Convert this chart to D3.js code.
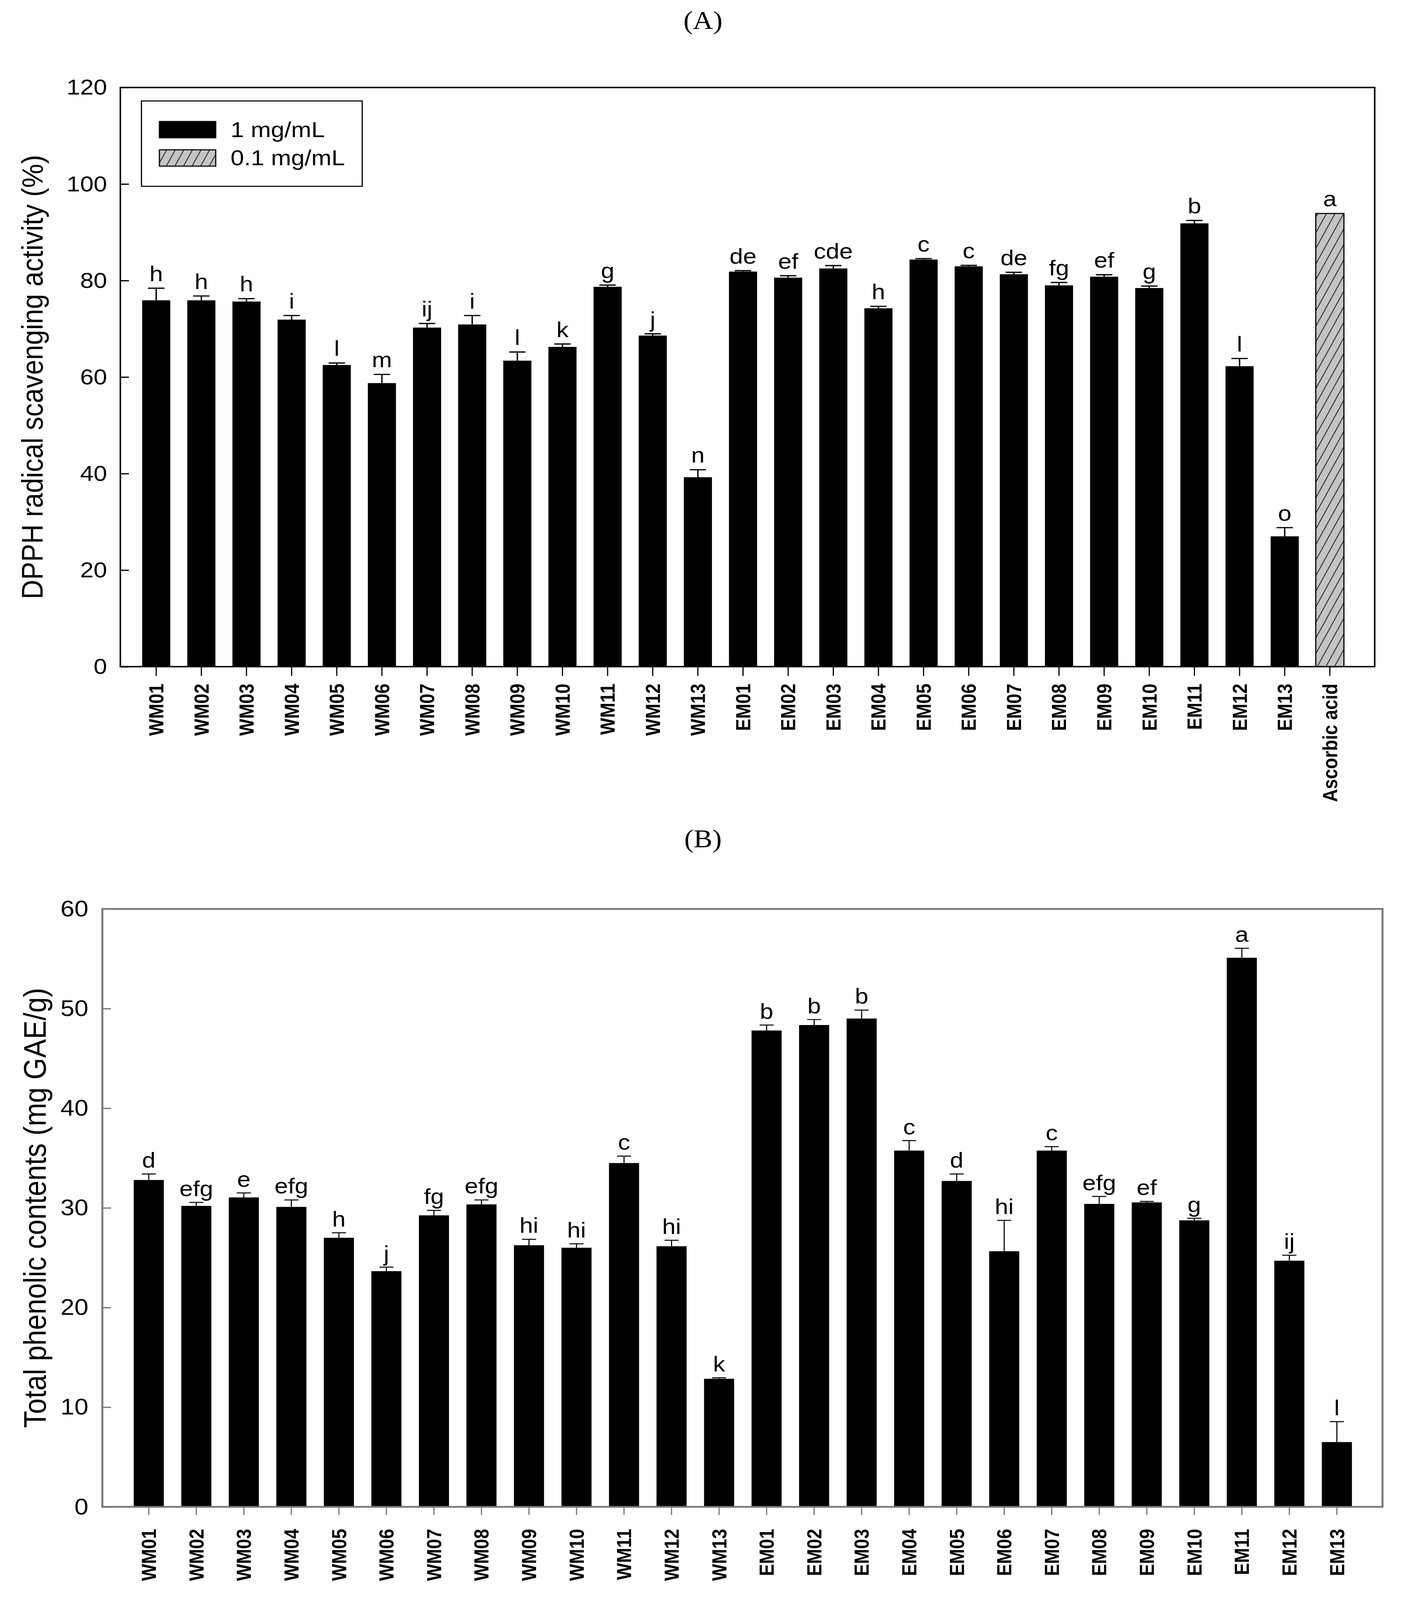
<!DOCTYPE html>
<html>
<head>
<meta charset="utf-8">
<script src="https://cdn.jsdelivr.net/npm/d3@7"></script>
<style>
  html, body { margin: 0; padding: 0; background: #fff; overflow: hidden; }
  svg { display: block; }
</style>
</head>
<body>
<svg id="chart" viewBox="0 0 3593 4517" preserveAspectRatio="none"></svg>
<script>
// ---------------- DATA ----------------
const categoriesA = ["WM01","WM02","WM03","WM04","WM05","WM06","WM07","WM08","WM09","WM10","WM11","WM12","WM13",
                     "EM01","EM02","EM03","EM04","EM05","EM06","EM07","EM08","EM09","EM10","EM11","EM12","EM13","Ascorbic acid"];
const valuesA = [75.9,75.9,75.65,71.9,62.5,58.75,70.25,70.9,63.4,66.25,78.7,68.6,39.25,
                 81.85,80.6,82.5,74.25,84.35,82.95,81.3,79.0,80.8,78.45,91.85,62.25,27.0,93.9];
const errorsA = [2.5,0.9,0.6,0.85,0.4,1.8,0.85,1.85,1.8,0.6,0.35,0.35,1.55,
                 0.2,0.4,0.6,0.4,0.2,0.2,0.4,0.6,0.4,0.4,0.6,1.6,1.8,0];
const lettersA = ["h","h","h","i","l","m","ij","i","l","k","g","j","n",
                  "de","ef","cde","h","c","c","de","fg","ef","g","b","l","o","a"];
const seriesA = ["1 mg/mL","1 mg/mL","1 mg/mL","1 mg/mL","1 mg/mL","1 mg/mL","1 mg/mL","1 mg/mL","1 mg/mL","1 mg/mL","1 mg/mL","1 mg/mL","1 mg/mL",
                 "1 mg/mL","1 mg/mL","1 mg/mL","1 mg/mL","1 mg/mL","1 mg/mL","1 mg/mL","1 mg/mL","1 mg/mL","1 mg/mL","1 mg/mL","1 mg/mL","1 mg/mL","0.1 mg/mL"];
const legendLabels = ["1 mg/mL","0.1 mg/mL"];
const ticksA = [0,20,40,60,80,100,120];

const categoriesB = ["WM01","WM02","WM03","WM04","WM05","WM06","WM07","WM08","WM09","WM10","WM11","WM12","WM13",
                     "EM01","EM02","EM03","EM04","EM05","EM06","EM07","EM08","EM09","EM10","EM11","EM12","EM13"];
const valuesB = [32.8,30.2,31.05,30.1,27.0,23.65,29.25,30.35,26.25,26.0,34.5,26.15,12.85,
                 47.8,48.35,49.0,35.75,32.7,25.65,35.75,30.4,30.55,28.75,55.1,24.7,6.5];
const errorsB = [0.6,0.35,0.45,0.7,0.5,0.4,0.5,0.45,0.6,0.4,0.7,0.6,0.1,
                 0.55,0.55,0.85,1.0,0.7,3.1,0.4,0.75,0.1,0.2,0.95,0.55,2.05];
const lettersB = ["d","efg","e","efg","h","j","fg","efg","hi","hi","c","hi","k",
                  "b","b","b","c","d","hi","c","efg","ef","g","a","ij","l"];
const ticksB = [0,10,20,30,40,50,60];

const titleA = "(A)", titleB = "(B)";
const yTitleA = "DPPH radical scavenging activity (%)";
const yTitleB = "Total phenolic contents (mg GAE/g)";

// ---------------- DRAW ----------------
const W = 3593, H = 4517;
const svg = d3.select("#chart")
  .attr("width", window.innerWidth || W)
  .attr("height", window.innerHeight || H);
svg.append("rect").attr("width",W).attr("height",H).attr("fill","#fff");

const SANS = "Liberation Sans, Arial, Helvetica, sans-serif";
const SERIF = "Liberation Serif, Times New Roman, serif";

// hatch pattern
const defs = svg.append("defs");
const pat = defs.append("pattern").attr("id","hatch").attr("patternUnits","userSpaceOnUse")
  .attr("width",22).attr("height",44);
pat.append("rect").attr("width",22).attr("height",44).attr("fill","#c4c4c4");
pat.append("path").attr("d","M0,44 L22,0 M-11,22 L0,0 M22,44 L33,22")
  .attr("stroke","#222").attr("stroke-width",2.2);

function panel(cfg){
  const g = svg.append("g");
  const x = d3.scaleBand().domain(cfg.cats).range(cfg.xr)
    .paddingInner(cfg.pad).paddingOuter(cfg.pad/2);
  const y = d3.scaleLinear().domain([0, cfg.ymax]).range([cfg.bottom, cfg.top]);

  // bars
  g.selectAll(".bar").data(cfg.cats).join("rect")
    .attr("x", d => x(d)).attr("width", x.bandwidth())
    .attr("y", (d,i) => y(cfg.vals[i]))
    .attr("height", (d,i) => y(0) - y(cfg.vals[i]))
    .attr("fill", (d,i) => cfg.series && cfg.series[i] === legendLabels[1] ? "url(#hatch)" : "#000")
    .attr("stroke", (d,i) => cfg.series && cfg.series[i] === legendLabels[1] ? "#000" : "none")
    .attr("stroke-width", 3);

  // error bars
  const eg = g.append("g").attr("stroke", cfg.errColor).attr("stroke-width", cfg.errW).attr("fill","none");
  cfg.cats.forEach((c,i) => {
    const e = cfg.errs[i];
    if (!e) return;
    const cx = x(c) + x.bandwidth()/2;
    eg.append("line").attr("x1",cx).attr("x2",cx).attr("y1",y(cfg.vals[i])).attr("y2",y(cfg.vals[i]+e));
    eg.append("line").attr("x1",cx-cfg.cap/2).attr("x2",cx+cfg.cap/2).attr("y1",y(cfg.vals[i]+e)).attr("y2",y(cfg.vals[i]+e));
  });

  // letters
  g.selectAll(".lt").data(cfg.cats).join("text")
    .attr("x", d => x(d) + x.bandwidth()/2)
    .attr("y", (d,i) => y(cfg.vals[i] + cfg.errs[i]) - cfg.letterGap)
    .attr("text-anchor","middle")
    .attr("font-family", SANS).attr("font-size", cfg.letterSize).attr("fill","#000")
    .text((d,i) => cfg.letters[i]);

  // y axis (inward ticks)
  const ya = g.append("g").attr("transform",`translate(${cfg.left},0)`)
    .call(d3.axisLeft(y).tickValues(cfg.ticks).tickSizeInner(-22).tickSizeOuter(0).tickPadding(cfg.yPad));
  ya.select(".domain").remove();
  ya.selectAll(".tick line").attr("stroke", cfg.frameColor).attr("stroke-width", 3.5);
  ya.selectAll(".tick text").attr("font-family", SANS).attr("font-size", cfg.tickSize).attr("fill","#000");

  // x axis
  const xa = g.append("g").attr("transform",`translate(0,${cfg.bottom})`)
    .call(d3.axisBottom(x).tickSizeInner(cfg.xTick).tickSizeOuter(0).tickPadding(0));
  xa.select(".domain").remove();
  xa.selectAll(".tick line").attr("stroke", cfg.frameColor).attr("stroke-width", 3);
  xa.selectAll(".tick text")
    .attr("transform","rotate(-90)")
    .attr("text-anchor","end")
    .attr("x", -cfg.labelOff).attr("y", 0).attr("dy","0.36em")
    .attr("font-family", SANS).attr("font-weight","bold").attr("font-size", cfg.catSize).attr("fill","#000");

  // frame
  g.append("rect").attr("x",cfg.left).attr("y",cfg.top)
    .attr("width",cfg.right-cfg.left).attr("height",cfg.bottom-cfg.top)
    .attr("fill","none").attr("stroke",cfg.frameColor).attr("stroke-width",cfg.frameW);

  // y title
  const cy = (cfg.top + cfg.bottom)/2;
  g.append("text").attr("transform",`translate(${cfg.yTitleX},${cy}) rotate(-90)`)
    .attr("text-anchor","middle").attr("dominant-baseline","central")
    .attr("font-family", SANS).attr("font-size", cfg.yTitleSize).attr("fill","#000")
    .text(cfg.yTitle);

  // panel title
  g.append("text").attr("x",1799).attr("y",cfg.titleY).attr("text-anchor","middle")
    .attr("font-family", SERIF).attr("font-size", 72).attr("fill","#000").text(cfg.title);
  return {g, x, y};
}

panel({cats:categoriesA, vals:valuesA, errs:errorsA, letters:lettersA, series:seriesA, ticks:ticksA,
  ymax:120, left:308, right:3518, top:247, bottom:1882, xr:[342,3461], pad:0.377,
  errColor:"#000", errW:3.5, cap:42, letterGap:20, letterSize:62, tickSize:62, yPad:34,
  xTick:26, labelOff:48, catSize:51, frameColor:"#000", frameW:4,
  yTitle:yTitleA, yTitleX:82, yTitleSize:76, title:titleA, titleY:82});

panel({cats:categoriesB, vals:valuesB, errs:errorsB, letters:lettersB, ticks:ticksB,
  ymax:60, left:262, right:3538, top:2566, bottom:4254, xr:[320,3482], pad:0.367,
  errColor:"#111", errW:3, cap:36, letterGap:18, letterSize:62, tickSize:64, yPad:36,
  xTick:23, labelOff:62, catSize:51, frameColor:"#777", frameW:5,
  yTitle:yTitleB, yTitleX:90, yTitleSize:79, title:titleB, titleY:2392});

// legend (panel A)
const lg = svg.append("g");
lg.append("rect").attr("x",362).attr("y",285).attr("width",565).attr("height",241)
  .attr("fill","#fff").attr("stroke","#000").attr("stroke-width",3);
const legY = d3.scalePoint().domain(legendLabels).range([366, 446]);
lg.selectAll(".sw").data(legendLabels).join("rect")
  .attr("x",408).attr("y",d => legY(d)-23).attr("width",144).attr("height",46)
  .attr("fill",(d,i) => i === 0 ? "#000" : "url(#hatch)")
  .attr("stroke","#000").attr("stroke-width",3);
lg.selectAll(".lt").data(legendLabels).join("text")
  .attr("x",590).attr("y",d => legY(d)+21)
  .attr("font-family", SANS).attr("font-size",62).attr("fill","#000").text(d => d);
</script>
</body>
</html>
